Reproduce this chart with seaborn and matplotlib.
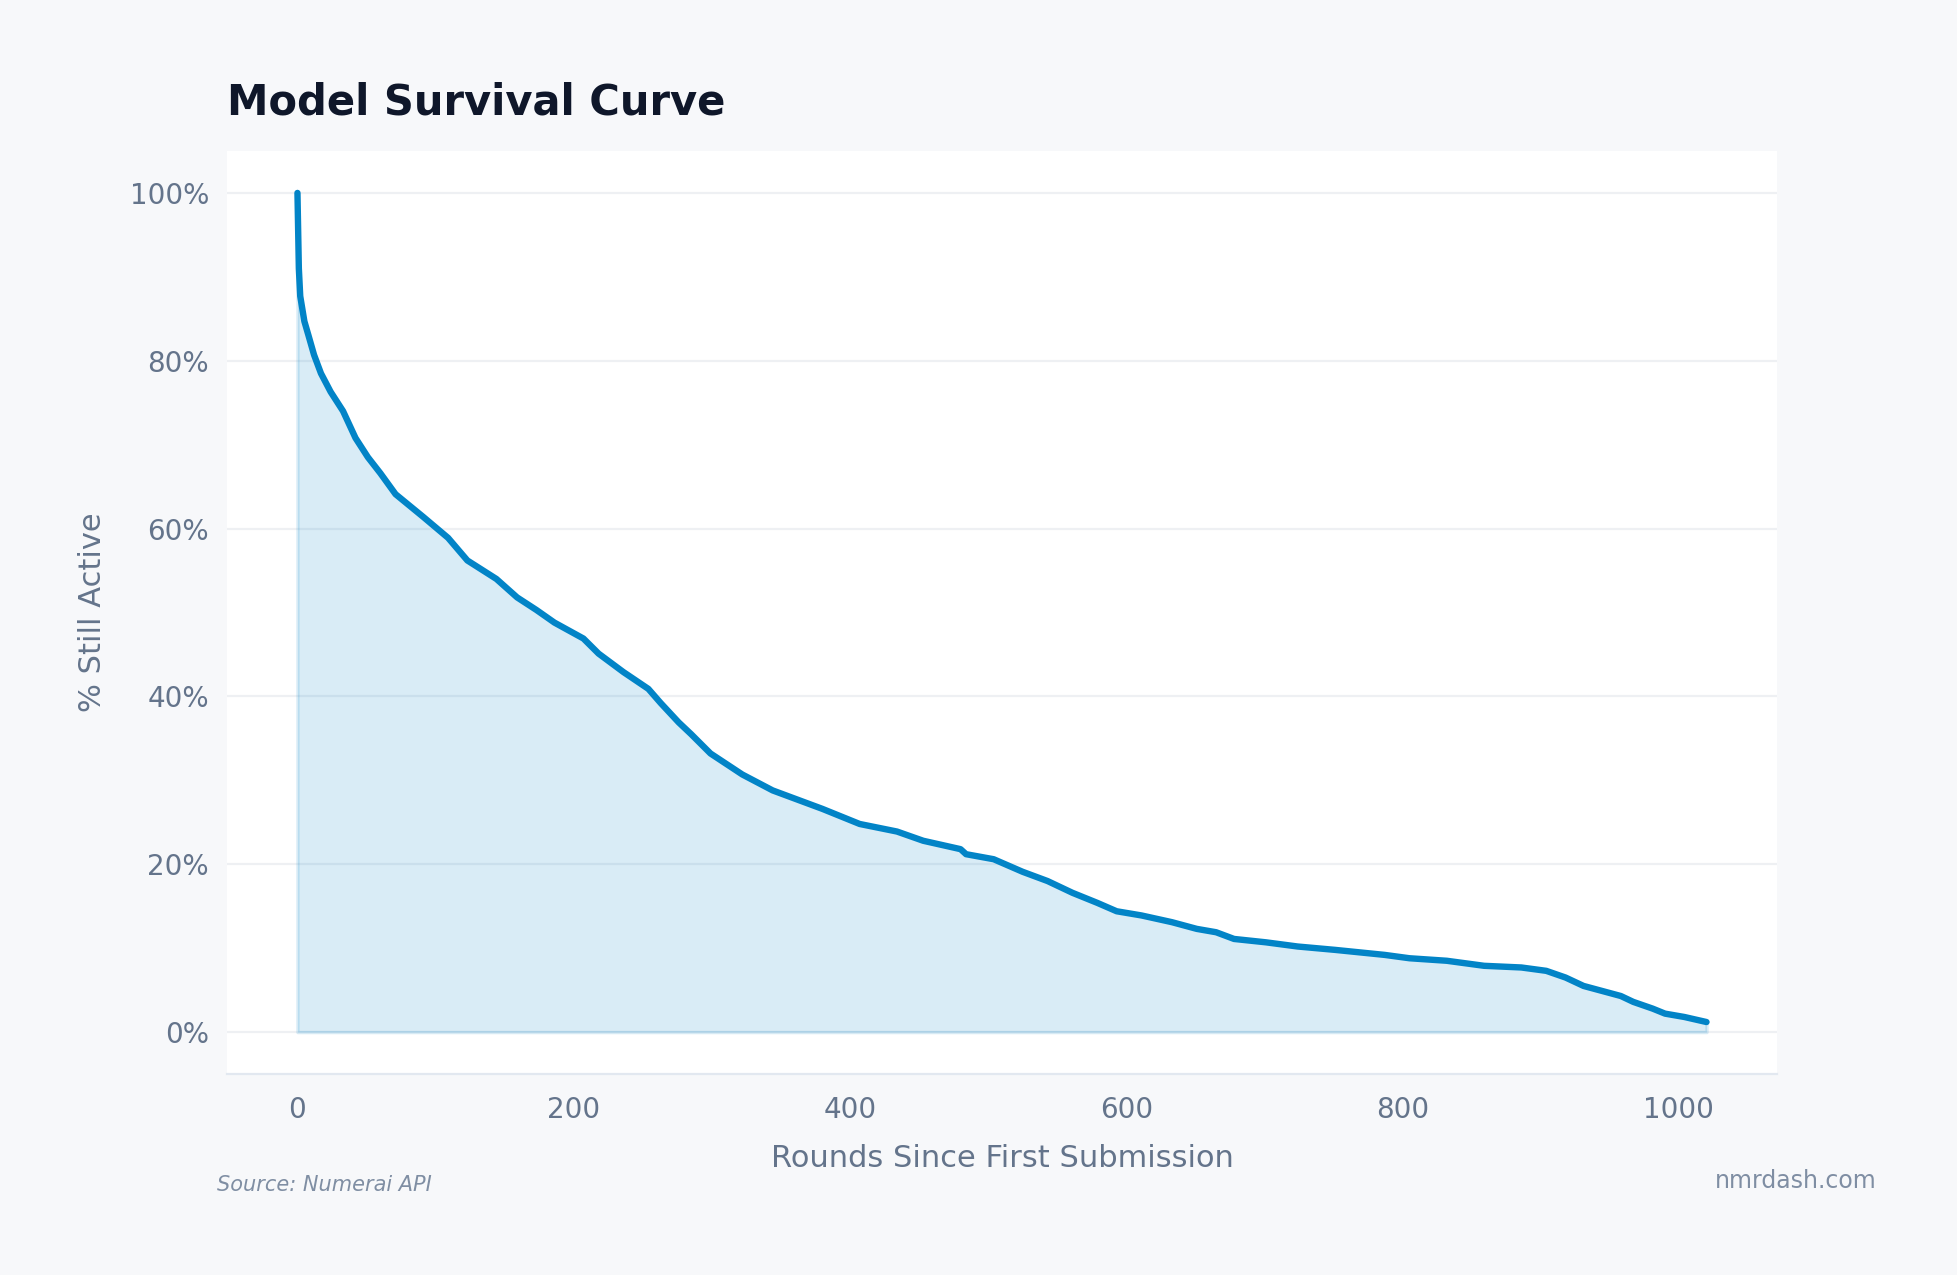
import numpy as np
import pandas as pd
import matplotlib
matplotlib.use("Agg")
import matplotlib.pyplot as plt
import seaborn as sns
from matplotlib.ticker import FuncFormatter

rounds = [0, 1, 2, 5, 8, 12, 17, 24, 33, 42, 51, 60, 71, 91, 109, 123, 144, 159, 173,
          186, 207, 218, 236, 254, 263, 276, 285, 299, 322, 344, 362, 380, 407, 434,
          453, 480, 484, 504, 525, 543, 561, 579, 593, 611, 633, 651, 665, 678, 701,
          724, 751, 787, 805, 832, 859, 886, 904, 918, 931, 949, 958, 967, 981, 990,
          1004, 1020]
pct_active = [100, 91, 87.7, 84.7, 83, 80.7, 78.5, 76.3, 74, 70.8, 68.5, 66.6, 64.1,
              61.4, 58.9, 56.2, 54, 51.8, 50.3, 48.8, 46.9, 45.1, 42.9, 40.9, 39.2,
              36.9, 35.5, 33.2, 30.7, 28.8, 27.7, 26.6, 24.8, 23.9, 22.8, 21.8, 21.2,
              20.6, 19.1, 18, 16.6, 15.4, 14.4, 13.9, 13.1, 12.3, 11.9, 11.1, 10.7,
              10.2, 9.8, 9.2, 8.8, 8.5, 7.9, 7.7, 7.3, 6.5, 5.5, 4.7, 4.3, 3.6, 2.8,
              2.2, 1.8, 1.2]

df = pd.DataFrame({"round": rounds, "pct": pct_active})

LINE = "#0284c7"
BG = "#f7f8fa"
TXT = "#64748b"

sns.set_theme(style="whitegrid")
plt.rcParams["font.family"] = ["DejaVu Sans"]

fig = plt.figure(figsize=(1957 / 200, 1275 / 200), dpi=200, facecolor=BG)
ax = fig.add_axes([0.116, 0.1576, 0.792, 0.724])
ax.set_facecolor("white")

ax.fill_between(df["round"], df["pct"], 0, color=LINE, alpha=0.15, linewidth=1.2,
                edgecolor=(0.008, 0.518, 0.78, 0.15))
sns.lineplot(data=df, x="round", y="pct", ax=ax, color=LINE, linewidth=2.3)

ax.set_xlim(-51, 1071)
ax.set_ylim(-5, 105)
ax.set_yticks([0, 20, 40, 60, 80, 100])
ax.set_xticks([0, 200, 400, 600, 800, 1000])
ax.yaxis.set_major_formatter(FuncFormatter(lambda v, p: f"{v:.0f}%"))

ax.grid(axis="y", color="#eef0f3", linewidth=0.8)
ax.grid(axis="x", visible=False)
for s in ["top", "right", "left"]:
    ax.spines[s].set_visible(False)
ax.spines["bottom"].set_color("#e2e8f0")
ax.spines["bottom"].set_linewidth(0.8)

ax.tick_params(axis="y", length=0, labelsize=10, labelcolor=TXT, pad=6.5)
ax.tick_params(axis="x", length=0, labelsize=10, labelcolor=TXT, pad=8)
ax.set_xlabel("Rounds Since First Submission", fontsize=11, color=TXT, labelpad=7)
ax.set_ylabel("% Still Active", fontsize=11, color=TXT, labelpad=8)

fig.text(0.116, 0.91, "Model Survival Curve", fontsize=15, fontweight="bold",
         color="#0f172a", ha="left", va="baseline")
fig.text(0.111, 0.066, "Source: Numerai API", fontsize=7.5, style="italic",
         color="#7f8ea3", ha="left", va="baseline")
fig.text(0.959, 0.068, "nmrdash.com", fontsize=8.5, color="#7f8ea3",
         ha="right", va="baseline")

fig.savefig("out.png", dpi=200, facecolor=BG)
